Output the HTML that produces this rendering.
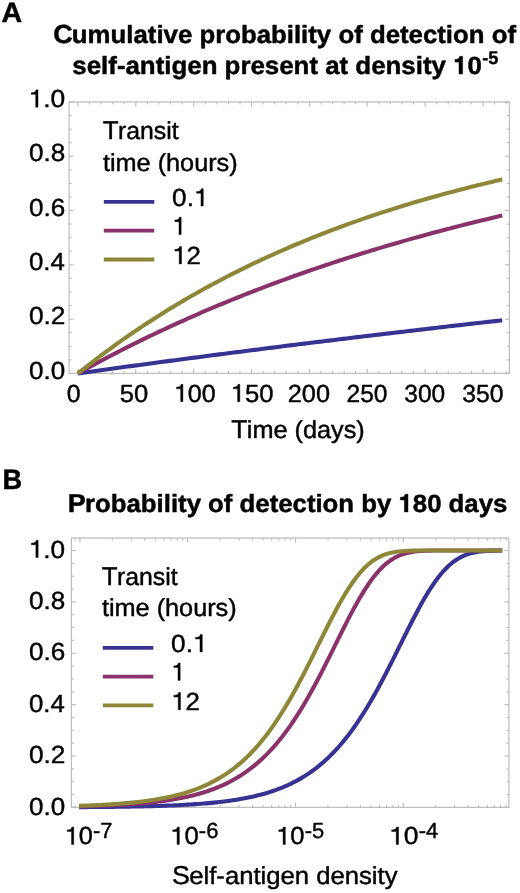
<!DOCTYPE html>
<html><head><meta charset="utf-8"><title>Detection probability</title><style>
html,body{margin:0;padding:0;background:#fff;}
svg{display:block;}
text{font-family:"Liberation Sans",sans-serif;font-kerning:none;text-rendering:geometricPrecision;fill:#000;}
.h{fill:none;stroke:none;}
</style></head><body>
<svg width="520" height="893" viewBox="0 0 520 893">

<rect width="520" height="893" fill="#fff"/>
<rect x="69.1" y="102.0" width="440.29999999999995" height="271.4" fill="none" stroke="#bebebe" stroke-width="1.25"/>
<line x1="77.90" y1="373.40" x2="77.90" y2="368.90" stroke="#bebebe" stroke-width="1.2"/>
<line x1="77.90" y1="102.00" x2="77.90" y2="106.50" stroke="#bebebe" stroke-width="1.2"/>
<line x1="89.48" y1="373.40" x2="89.48" y2="370.90" stroke="#bebebe" stroke-width="1.2"/>
<line x1="89.48" y1="102.00" x2="89.48" y2="104.50" stroke="#bebebe" stroke-width="1.2"/>
<line x1="101.05" y1="373.40" x2="101.05" y2="370.90" stroke="#bebebe" stroke-width="1.2"/>
<line x1="101.05" y1="102.00" x2="101.05" y2="104.50" stroke="#bebebe" stroke-width="1.2"/>
<line x1="112.62" y1="373.40" x2="112.62" y2="370.90" stroke="#bebebe" stroke-width="1.2"/>
<line x1="112.62" y1="102.00" x2="112.62" y2="104.50" stroke="#bebebe" stroke-width="1.2"/>
<line x1="124.20" y1="373.40" x2="124.20" y2="370.90" stroke="#bebebe" stroke-width="1.2"/>
<line x1="124.20" y1="102.00" x2="124.20" y2="104.50" stroke="#bebebe" stroke-width="1.2"/>
<line x1="135.78" y1="373.40" x2="135.78" y2="368.90" stroke="#bebebe" stroke-width="1.2"/>
<line x1="135.78" y1="102.00" x2="135.78" y2="106.50" stroke="#bebebe" stroke-width="1.2"/>
<line x1="147.35" y1="373.40" x2="147.35" y2="370.90" stroke="#bebebe" stroke-width="1.2"/>
<line x1="147.35" y1="102.00" x2="147.35" y2="104.50" stroke="#bebebe" stroke-width="1.2"/>
<line x1="158.93" y1="373.40" x2="158.93" y2="370.90" stroke="#bebebe" stroke-width="1.2"/>
<line x1="158.93" y1="102.00" x2="158.93" y2="104.50" stroke="#bebebe" stroke-width="1.2"/>
<line x1="170.50" y1="373.40" x2="170.50" y2="370.90" stroke="#bebebe" stroke-width="1.2"/>
<line x1="170.50" y1="102.00" x2="170.50" y2="104.50" stroke="#bebebe" stroke-width="1.2"/>
<line x1="182.07" y1="373.40" x2="182.07" y2="370.90" stroke="#bebebe" stroke-width="1.2"/>
<line x1="182.07" y1="102.00" x2="182.07" y2="104.50" stroke="#bebebe" stroke-width="1.2"/>
<line x1="193.65" y1="373.40" x2="193.65" y2="368.90" stroke="#bebebe" stroke-width="1.2"/>
<line x1="193.65" y1="102.00" x2="193.65" y2="106.50" stroke="#bebebe" stroke-width="1.2"/>
<line x1="205.23" y1="373.40" x2="205.23" y2="370.90" stroke="#bebebe" stroke-width="1.2"/>
<line x1="205.23" y1="102.00" x2="205.23" y2="104.50" stroke="#bebebe" stroke-width="1.2"/>
<line x1="216.80" y1="373.40" x2="216.80" y2="370.90" stroke="#bebebe" stroke-width="1.2"/>
<line x1="216.80" y1="102.00" x2="216.80" y2="104.50" stroke="#bebebe" stroke-width="1.2"/>
<line x1="228.38" y1="373.40" x2="228.38" y2="370.90" stroke="#bebebe" stroke-width="1.2"/>
<line x1="228.38" y1="102.00" x2="228.38" y2="104.50" stroke="#bebebe" stroke-width="1.2"/>
<line x1="239.95" y1="373.40" x2="239.95" y2="370.90" stroke="#bebebe" stroke-width="1.2"/>
<line x1="239.95" y1="102.00" x2="239.95" y2="104.50" stroke="#bebebe" stroke-width="1.2"/>
<line x1="251.53" y1="373.40" x2="251.53" y2="368.90" stroke="#bebebe" stroke-width="1.2"/>
<line x1="251.53" y1="102.00" x2="251.53" y2="106.50" stroke="#bebebe" stroke-width="1.2"/>
<line x1="263.10" y1="373.40" x2="263.10" y2="370.90" stroke="#bebebe" stroke-width="1.2"/>
<line x1="263.10" y1="102.00" x2="263.10" y2="104.50" stroke="#bebebe" stroke-width="1.2"/>
<line x1="274.68" y1="373.40" x2="274.68" y2="370.90" stroke="#bebebe" stroke-width="1.2"/>
<line x1="274.68" y1="102.00" x2="274.68" y2="104.50" stroke="#bebebe" stroke-width="1.2"/>
<line x1="286.25" y1="373.40" x2="286.25" y2="370.90" stroke="#bebebe" stroke-width="1.2"/>
<line x1="286.25" y1="102.00" x2="286.25" y2="104.50" stroke="#bebebe" stroke-width="1.2"/>
<line x1="297.82" y1="373.40" x2="297.82" y2="370.90" stroke="#bebebe" stroke-width="1.2"/>
<line x1="297.82" y1="102.00" x2="297.82" y2="104.50" stroke="#bebebe" stroke-width="1.2"/>
<line x1="309.40" y1="373.40" x2="309.40" y2="368.90" stroke="#bebebe" stroke-width="1.2"/>
<line x1="309.40" y1="102.00" x2="309.40" y2="106.50" stroke="#bebebe" stroke-width="1.2"/>
<line x1="320.98" y1="373.40" x2="320.98" y2="370.90" stroke="#bebebe" stroke-width="1.2"/>
<line x1="320.98" y1="102.00" x2="320.98" y2="104.50" stroke="#bebebe" stroke-width="1.2"/>
<line x1="332.55" y1="373.40" x2="332.55" y2="370.90" stroke="#bebebe" stroke-width="1.2"/>
<line x1="332.55" y1="102.00" x2="332.55" y2="104.50" stroke="#bebebe" stroke-width="1.2"/>
<line x1="344.12" y1="373.40" x2="344.12" y2="370.90" stroke="#bebebe" stroke-width="1.2"/>
<line x1="344.12" y1="102.00" x2="344.12" y2="104.50" stroke="#bebebe" stroke-width="1.2"/>
<line x1="355.70" y1="373.40" x2="355.70" y2="370.90" stroke="#bebebe" stroke-width="1.2"/>
<line x1="355.70" y1="102.00" x2="355.70" y2="104.50" stroke="#bebebe" stroke-width="1.2"/>
<line x1="367.27" y1="373.40" x2="367.27" y2="368.90" stroke="#bebebe" stroke-width="1.2"/>
<line x1="367.27" y1="102.00" x2="367.27" y2="106.50" stroke="#bebebe" stroke-width="1.2"/>
<line x1="378.85" y1="373.40" x2="378.85" y2="370.90" stroke="#bebebe" stroke-width="1.2"/>
<line x1="378.85" y1="102.00" x2="378.85" y2="104.50" stroke="#bebebe" stroke-width="1.2"/>
<line x1="390.42" y1="373.40" x2="390.42" y2="370.90" stroke="#bebebe" stroke-width="1.2"/>
<line x1="390.42" y1="102.00" x2="390.42" y2="104.50" stroke="#bebebe" stroke-width="1.2"/>
<line x1="402.00" y1="373.40" x2="402.00" y2="370.90" stroke="#bebebe" stroke-width="1.2"/>
<line x1="402.00" y1="102.00" x2="402.00" y2="104.50" stroke="#bebebe" stroke-width="1.2"/>
<line x1="413.58" y1="373.40" x2="413.58" y2="370.90" stroke="#bebebe" stroke-width="1.2"/>
<line x1="413.58" y1="102.00" x2="413.58" y2="104.50" stroke="#bebebe" stroke-width="1.2"/>
<line x1="425.15" y1="373.40" x2="425.15" y2="368.90" stroke="#bebebe" stroke-width="1.2"/>
<line x1="425.15" y1="102.00" x2="425.15" y2="106.50" stroke="#bebebe" stroke-width="1.2"/>
<line x1="436.73" y1="373.40" x2="436.73" y2="370.90" stroke="#bebebe" stroke-width="1.2"/>
<line x1="436.73" y1="102.00" x2="436.73" y2="104.50" stroke="#bebebe" stroke-width="1.2"/>
<line x1="448.30" y1="373.40" x2="448.30" y2="370.90" stroke="#bebebe" stroke-width="1.2"/>
<line x1="448.30" y1="102.00" x2="448.30" y2="104.50" stroke="#bebebe" stroke-width="1.2"/>
<line x1="459.88" y1="373.40" x2="459.88" y2="370.90" stroke="#bebebe" stroke-width="1.2"/>
<line x1="459.88" y1="102.00" x2="459.88" y2="104.50" stroke="#bebebe" stroke-width="1.2"/>
<line x1="471.45" y1="373.40" x2="471.45" y2="370.90" stroke="#bebebe" stroke-width="1.2"/>
<line x1="471.45" y1="102.00" x2="471.45" y2="104.50" stroke="#bebebe" stroke-width="1.2"/>
<line x1="483.02" y1="373.40" x2="483.02" y2="368.90" stroke="#bebebe" stroke-width="1.2"/>
<line x1="483.02" y1="102.00" x2="483.02" y2="106.50" stroke="#bebebe" stroke-width="1.2"/>
<line x1="494.60" y1="373.40" x2="494.60" y2="370.90" stroke="#bebebe" stroke-width="1.2"/>
<line x1="494.60" y1="102.00" x2="494.60" y2="104.50" stroke="#bebebe" stroke-width="1.2"/>
<line x1="506.17" y1="373.40" x2="506.17" y2="370.90" stroke="#bebebe" stroke-width="1.2"/>
<line x1="506.17" y1="102.00" x2="506.17" y2="104.50" stroke="#bebebe" stroke-width="1.2"/>
<line x1="69.10" y1="373.40" x2="73.60" y2="373.40" stroke="#bebebe" stroke-width="1.2"/>
<line x1="509.40" y1="373.40" x2="504.90" y2="373.40" stroke="#bebebe" stroke-width="1.2"/>
<line x1="69.10" y1="359.83" x2="71.60" y2="359.83" stroke="#bebebe" stroke-width="1.2"/>
<line x1="509.40" y1="359.83" x2="506.90" y2="359.83" stroke="#bebebe" stroke-width="1.2"/>
<line x1="69.10" y1="346.26" x2="71.60" y2="346.26" stroke="#bebebe" stroke-width="1.2"/>
<line x1="509.40" y1="346.26" x2="506.90" y2="346.26" stroke="#bebebe" stroke-width="1.2"/>
<line x1="69.10" y1="332.69" x2="71.60" y2="332.69" stroke="#bebebe" stroke-width="1.2"/>
<line x1="509.40" y1="332.69" x2="506.90" y2="332.69" stroke="#bebebe" stroke-width="1.2"/>
<line x1="69.10" y1="319.12" x2="73.60" y2="319.12" stroke="#bebebe" stroke-width="1.2"/>
<line x1="509.40" y1="319.12" x2="504.90" y2="319.12" stroke="#bebebe" stroke-width="1.2"/>
<line x1="69.10" y1="305.55" x2="71.60" y2="305.55" stroke="#bebebe" stroke-width="1.2"/>
<line x1="509.40" y1="305.55" x2="506.90" y2="305.55" stroke="#bebebe" stroke-width="1.2"/>
<line x1="69.10" y1="291.98" x2="71.60" y2="291.98" stroke="#bebebe" stroke-width="1.2"/>
<line x1="509.40" y1="291.98" x2="506.90" y2="291.98" stroke="#bebebe" stroke-width="1.2"/>
<line x1="69.10" y1="278.41" x2="71.60" y2="278.41" stroke="#bebebe" stroke-width="1.2"/>
<line x1="509.40" y1="278.41" x2="506.90" y2="278.41" stroke="#bebebe" stroke-width="1.2"/>
<line x1="69.10" y1="264.84" x2="73.60" y2="264.84" stroke="#bebebe" stroke-width="1.2"/>
<line x1="509.40" y1="264.84" x2="504.90" y2="264.84" stroke="#bebebe" stroke-width="1.2"/>
<line x1="69.10" y1="251.27" x2="71.60" y2="251.27" stroke="#bebebe" stroke-width="1.2"/>
<line x1="509.40" y1="251.27" x2="506.90" y2="251.27" stroke="#bebebe" stroke-width="1.2"/>
<line x1="69.10" y1="237.70" x2="71.60" y2="237.70" stroke="#bebebe" stroke-width="1.2"/>
<line x1="509.40" y1="237.70" x2="506.90" y2="237.70" stroke="#bebebe" stroke-width="1.2"/>
<line x1="69.10" y1="224.13" x2="71.60" y2="224.13" stroke="#bebebe" stroke-width="1.2"/>
<line x1="509.40" y1="224.13" x2="506.90" y2="224.13" stroke="#bebebe" stroke-width="1.2"/>
<line x1="69.10" y1="210.56" x2="73.60" y2="210.56" stroke="#bebebe" stroke-width="1.2"/>
<line x1="509.40" y1="210.56" x2="504.90" y2="210.56" stroke="#bebebe" stroke-width="1.2"/>
<line x1="69.10" y1="196.99" x2="71.60" y2="196.99" stroke="#bebebe" stroke-width="1.2"/>
<line x1="509.40" y1="196.99" x2="506.90" y2="196.99" stroke="#bebebe" stroke-width="1.2"/>
<line x1="69.10" y1="183.42" x2="71.60" y2="183.42" stroke="#bebebe" stroke-width="1.2"/>
<line x1="509.40" y1="183.42" x2="506.90" y2="183.42" stroke="#bebebe" stroke-width="1.2"/>
<line x1="69.10" y1="169.85" x2="71.60" y2="169.85" stroke="#bebebe" stroke-width="1.2"/>
<line x1="509.40" y1="169.85" x2="506.90" y2="169.85" stroke="#bebebe" stroke-width="1.2"/>
<line x1="69.10" y1="156.28" x2="73.60" y2="156.28" stroke="#bebebe" stroke-width="1.2"/>
<line x1="509.40" y1="156.28" x2="504.90" y2="156.28" stroke="#bebebe" stroke-width="1.2"/>
<line x1="69.10" y1="142.71" x2="71.60" y2="142.71" stroke="#bebebe" stroke-width="1.2"/>
<line x1="509.40" y1="142.71" x2="506.90" y2="142.71" stroke="#bebebe" stroke-width="1.2"/>
<line x1="69.10" y1="129.14" x2="71.60" y2="129.14" stroke="#bebebe" stroke-width="1.2"/>
<line x1="509.40" y1="129.14" x2="506.90" y2="129.14" stroke="#bebebe" stroke-width="1.2"/>
<line x1="69.10" y1="115.57" x2="71.60" y2="115.57" stroke="#bebebe" stroke-width="1.2"/>
<line x1="509.40" y1="115.57" x2="506.90" y2="115.57" stroke="#bebebe" stroke-width="1.2"/>
<line x1="69.10" y1="102.00" x2="73.60" y2="102.00" stroke="#bebebe" stroke-width="1.2"/>
<line x1="509.40" y1="102.00" x2="504.90" y2="102.00" stroke="#bebebe" stroke-width="1.2"/>
<path d="M77.90 373.40 L81.44 372.91 L84.97 372.42 L88.51 371.93 L92.04 371.44 L95.58 370.95 L99.12 370.46 L102.65 369.97 L106.19 369.49 L109.73 369.00 L113.26 368.52 L116.80 368.04 L120.33 367.55 L123.87 367.07 L127.41 366.59 L130.94 366.11 L134.48 365.63 L138.01 365.16 L141.55 364.68 L145.09 364.20 L148.62 363.73 L152.16 363.25 L155.70 362.78 L159.23 362.31 L162.77 361.83 L166.30 361.36 L169.84 360.89 L173.38 360.42 L176.91 359.95 L180.45 359.49 L183.98 359.02 L187.52 358.55 L191.06 358.09 L194.59 357.62 L198.13 357.16 L201.67 356.70 L205.20 356.24 L208.74 355.78 L212.27 355.32 L215.81 354.86 L219.35 354.40 L222.88 353.94 L226.42 353.48 L229.95 353.03 L233.49 352.57 L237.03 352.12 L240.56 351.66 L244.10 351.21 L247.64 350.76 L251.17 350.31 L254.71 349.86 L258.24 349.41 L261.78 348.96 L265.32 348.51 L268.85 348.07 L272.39 347.62 L275.93 347.17 L279.46 346.73 L283.00 346.29 L286.53 345.84 L290.07 345.40 L293.61 344.96 L297.14 344.52 L300.68 344.08 L304.21 343.64 L307.75 343.20 L311.29 342.77 L314.82 342.33 L318.36 341.89 L321.90 341.46 L325.43 341.02 L328.97 340.59 L332.50 340.16 L336.04 339.73 L339.58 339.30 L343.11 338.87 L346.65 338.44 L350.18 338.01 L353.72 337.58 L357.26 337.15 L360.79 336.73 L364.33 336.30 L367.87 335.88 L371.40 335.45 L374.94 335.03 L378.47 334.61 L382.01 334.18 L385.55 333.76 L389.08 333.34 L392.62 332.92 L396.15 332.51 L399.69 332.09 L403.23 331.67 L406.76 331.25 L410.30 330.84 L413.84 330.42 L417.37 330.01 L420.91 329.60 L424.44 329.18 L427.98 328.77 L431.52 328.36 L435.05 327.95 L438.59 327.54 L442.12 327.13 L445.66 326.72 L449.20 326.32 L452.73 325.91 L456.27 325.50 L459.81 325.10 L463.34 324.69 L466.88 324.29 L470.41 323.89 L473.95 323.48 L477.49 323.08 L481.02 322.68 L484.56 322.28 L488.09 321.88 L491.63 321.48 L495.17 321.09 L498.70 320.69 L502.24 320.29" fill="none" stroke="#363392" stroke-width="4.1" stroke-linejoin="round"/>
<path d="M77.90 373.40 L81.44 371.44 L84.97 369.49 L88.51 367.55 L92.04 365.63 L95.58 363.72 L99.12 361.83 L102.65 359.95 L106.19 358.08 L109.73 356.23 L113.26 354.39 L116.80 352.56 L120.33 350.75 L123.87 348.95 L127.41 347.16 L130.94 345.39 L134.48 343.63 L138.01 341.88 L141.55 340.15 L145.09 338.42 L148.62 336.71 L152.16 335.01 L155.70 333.33 L159.23 331.65 L162.77 329.99 L166.30 328.34 L169.84 326.71 L173.38 325.08 L176.91 323.47 L180.45 321.86 L183.98 320.27 L187.52 318.69 L191.06 317.12 L194.59 315.57 L198.13 314.02 L201.67 312.49 L205.20 310.97 L208.74 309.45 L212.27 307.95 L215.81 306.46 L219.35 304.98 L222.88 303.51 L226.42 302.06 L229.95 300.61 L233.49 299.17 L237.03 297.75 L240.56 296.33 L244.10 294.92 L247.64 293.53 L251.17 292.14 L254.71 290.77 L258.24 289.40 L261.78 288.04 L265.32 286.70 L268.85 285.36 L272.39 284.03 L275.93 282.72 L279.46 281.41 L283.00 280.11 L286.53 278.82 L290.07 277.54 L293.61 276.27 L297.14 275.01 L300.68 273.76 L304.21 272.52 L307.75 271.28 L311.29 270.06 L314.82 268.84 L318.36 267.64 L321.90 266.44 L325.43 265.25 L328.97 264.07 L332.50 262.89 L336.04 261.73 L339.58 260.57 L343.11 259.43 L346.65 258.29 L350.18 257.16 L353.72 256.03 L357.26 254.92 L360.79 253.81 L364.33 252.72 L367.87 251.62 L371.40 250.54 L374.94 249.47 L378.47 248.40 L382.01 247.34 L385.55 246.29 L389.08 245.25 L392.62 244.21 L396.15 243.18 L399.69 242.16 L403.23 241.14 L406.76 240.14 L410.30 239.14 L413.84 238.15 L417.37 237.16 L420.91 236.18 L424.44 235.21 L427.98 234.25 L431.52 233.29 L435.05 232.34 L438.59 231.40 L442.12 230.46 L445.66 229.53 L449.20 228.61 L452.73 227.69 L456.27 226.78 L459.81 225.88 L463.34 224.99 L466.88 224.10 L470.41 223.21 L473.95 222.33 L477.49 221.46 L481.02 220.60 L484.56 219.74 L488.09 218.89 L491.63 218.04 L495.17 217.20 L498.70 216.37 L502.24 215.54" fill="none" stroke="#8a326a" stroke-width="4.1" stroke-linejoin="round"/>
<path d="M77.90 373.40 L81.44 370.58 L84.97 367.79 L88.51 365.03 L92.04 362.29 L95.58 359.59 L99.12 356.91 L102.65 354.26 L106.19 351.64 L109.73 349.04 L113.26 346.47 L116.80 343.93 L120.33 341.42 L123.87 338.93 L127.41 336.47 L130.94 334.03 L134.48 331.62 L138.01 329.23 L141.55 326.87 L145.09 324.53 L148.62 322.22 L152.16 319.93 L155.70 317.67 L159.23 315.43 L162.77 313.21 L166.30 311.01 L169.84 308.84 L173.38 306.69 L176.91 304.56 L180.45 302.46 L183.98 300.37 L187.52 298.31 L191.06 296.27 L194.59 294.25 L198.13 292.25 L201.67 290.28 L205.20 288.32 L208.74 286.38 L212.27 284.47 L215.81 282.57 L219.35 280.69 L222.88 278.84 L226.42 277.00 L229.95 275.18 L233.49 273.38 L237.03 271.60 L240.56 269.83 L244.10 268.09 L247.64 266.36 L251.17 264.66 L254.71 262.97 L258.24 261.29 L261.78 259.64 L265.32 258.00 L268.85 256.38 L272.39 254.77 L275.93 253.18 L279.46 251.61 L283.00 250.06 L286.53 248.52 L290.07 247.00 L293.61 245.49 L297.14 244.00 L300.68 242.52 L304.21 241.06 L307.75 239.62 L311.29 238.19 L314.82 236.77 L318.36 235.37 L321.90 233.98 L325.43 232.61 L328.97 231.25 L332.50 229.91 L336.04 228.58 L339.58 227.27 L343.11 225.96 L346.65 224.67 L350.18 223.40 L353.72 222.14 L357.26 220.89 L360.79 219.65 L364.33 218.43 L367.87 217.22 L371.40 216.02 L374.94 214.84 L378.47 213.67 L382.01 212.50 L385.55 211.36 L389.08 210.22 L392.62 209.09 L396.15 207.98 L399.69 206.88 L403.23 205.79 L406.76 204.71 L410.30 203.64 L413.84 202.59 L417.37 201.54 L420.91 200.51 L424.44 199.48 L427.98 198.47 L431.52 197.47 L435.05 196.48 L438.59 195.49 L442.12 194.52 L445.66 193.56 L449.20 192.61 L452.73 191.67 L456.27 190.73 L459.81 189.81 L463.34 188.90 L466.88 188.00 L470.41 187.10 L473.95 186.22 L477.49 185.34 L481.02 184.48 L484.56 183.62 L488.09 182.77 L491.63 181.93 L495.17 181.10 L498.70 180.28 L502.24 179.46" fill="none" stroke="#8e873a" stroke-width="4.1" stroke-linejoin="round"/>
<rect x="71.4" y="538.0" width="437.5" height="269.4" fill="none" stroke="#bebebe" stroke-width="1.25"/>
<line x1="74.97" y1="807.40" x2="74.97" y2="804.90" stroke="#bebebe" stroke-width="1.2"/>
<line x1="74.97" y1="538.00" x2="74.97" y2="540.50" stroke="#bebebe" stroke-width="1.2"/>
<line x1="79.90" y1="807.40" x2="79.90" y2="802.90" stroke="#bebebe" stroke-width="1.2"/>
<line x1="79.90" y1="538.00" x2="79.90" y2="542.50" stroke="#bebebe" stroke-width="1.2"/>
<line x1="112.35" y1="807.40" x2="112.35" y2="804.90" stroke="#bebebe" stroke-width="1.2"/>
<line x1="112.35" y1="538.00" x2="112.35" y2="540.50" stroke="#bebebe" stroke-width="1.2"/>
<line x1="131.33" y1="807.40" x2="131.33" y2="804.90" stroke="#bebebe" stroke-width="1.2"/>
<line x1="131.33" y1="538.00" x2="131.33" y2="540.50" stroke="#bebebe" stroke-width="1.2"/>
<line x1="144.80" y1="807.40" x2="144.80" y2="804.90" stroke="#bebebe" stroke-width="1.2"/>
<line x1="144.80" y1="538.00" x2="144.80" y2="540.50" stroke="#bebebe" stroke-width="1.2"/>
<line x1="155.25" y1="807.40" x2="155.25" y2="804.90" stroke="#bebebe" stroke-width="1.2"/>
<line x1="155.25" y1="538.00" x2="155.25" y2="540.50" stroke="#bebebe" stroke-width="1.2"/>
<line x1="163.78" y1="807.40" x2="163.78" y2="804.90" stroke="#bebebe" stroke-width="1.2"/>
<line x1="163.78" y1="538.00" x2="163.78" y2="540.50" stroke="#bebebe" stroke-width="1.2"/>
<line x1="171.00" y1="807.40" x2="171.00" y2="804.90" stroke="#bebebe" stroke-width="1.2"/>
<line x1="171.00" y1="538.00" x2="171.00" y2="540.50" stroke="#bebebe" stroke-width="1.2"/>
<line x1="177.25" y1="807.40" x2="177.25" y2="804.90" stroke="#bebebe" stroke-width="1.2"/>
<line x1="177.25" y1="538.00" x2="177.25" y2="540.50" stroke="#bebebe" stroke-width="1.2"/>
<line x1="182.77" y1="807.40" x2="182.77" y2="804.90" stroke="#bebebe" stroke-width="1.2"/>
<line x1="182.77" y1="538.00" x2="182.77" y2="540.50" stroke="#bebebe" stroke-width="1.2"/>
<line x1="187.70" y1="807.40" x2="187.70" y2="802.90" stroke="#bebebe" stroke-width="1.2"/>
<line x1="187.70" y1="538.00" x2="187.70" y2="542.50" stroke="#bebebe" stroke-width="1.2"/>
<line x1="220.15" y1="807.40" x2="220.15" y2="804.90" stroke="#bebebe" stroke-width="1.2"/>
<line x1="220.15" y1="538.00" x2="220.15" y2="540.50" stroke="#bebebe" stroke-width="1.2"/>
<line x1="239.13" y1="807.40" x2="239.13" y2="804.90" stroke="#bebebe" stroke-width="1.2"/>
<line x1="239.13" y1="538.00" x2="239.13" y2="540.50" stroke="#bebebe" stroke-width="1.2"/>
<line x1="252.60" y1="807.40" x2="252.60" y2="804.90" stroke="#bebebe" stroke-width="1.2"/>
<line x1="252.60" y1="538.00" x2="252.60" y2="540.50" stroke="#bebebe" stroke-width="1.2"/>
<line x1="263.05" y1="807.40" x2="263.05" y2="804.90" stroke="#bebebe" stroke-width="1.2"/>
<line x1="263.05" y1="538.00" x2="263.05" y2="540.50" stroke="#bebebe" stroke-width="1.2"/>
<line x1="271.58" y1="807.40" x2="271.58" y2="804.90" stroke="#bebebe" stroke-width="1.2"/>
<line x1="271.58" y1="538.00" x2="271.58" y2="540.50" stroke="#bebebe" stroke-width="1.2"/>
<line x1="278.80" y1="807.40" x2="278.80" y2="804.90" stroke="#bebebe" stroke-width="1.2"/>
<line x1="278.80" y1="538.00" x2="278.80" y2="540.50" stroke="#bebebe" stroke-width="1.2"/>
<line x1="285.05" y1="807.40" x2="285.05" y2="804.90" stroke="#bebebe" stroke-width="1.2"/>
<line x1="285.05" y1="538.00" x2="285.05" y2="540.50" stroke="#bebebe" stroke-width="1.2"/>
<line x1="290.57" y1="807.40" x2="290.57" y2="804.90" stroke="#bebebe" stroke-width="1.2"/>
<line x1="290.57" y1="538.00" x2="290.57" y2="540.50" stroke="#bebebe" stroke-width="1.2"/>
<line x1="295.50" y1="807.40" x2="295.50" y2="802.90" stroke="#bebebe" stroke-width="1.2"/>
<line x1="295.50" y1="538.00" x2="295.50" y2="542.50" stroke="#bebebe" stroke-width="1.2"/>
<line x1="327.95" y1="807.40" x2="327.95" y2="804.90" stroke="#bebebe" stroke-width="1.2"/>
<line x1="327.95" y1="538.00" x2="327.95" y2="540.50" stroke="#bebebe" stroke-width="1.2"/>
<line x1="346.93" y1="807.40" x2="346.93" y2="804.90" stroke="#bebebe" stroke-width="1.2"/>
<line x1="346.93" y1="538.00" x2="346.93" y2="540.50" stroke="#bebebe" stroke-width="1.2"/>
<line x1="360.40" y1="807.40" x2="360.40" y2="804.90" stroke="#bebebe" stroke-width="1.2"/>
<line x1="360.40" y1="538.00" x2="360.40" y2="540.50" stroke="#bebebe" stroke-width="1.2"/>
<line x1="370.85" y1="807.40" x2="370.85" y2="804.90" stroke="#bebebe" stroke-width="1.2"/>
<line x1="370.85" y1="538.00" x2="370.85" y2="540.50" stroke="#bebebe" stroke-width="1.2"/>
<line x1="379.38" y1="807.40" x2="379.38" y2="804.90" stroke="#bebebe" stroke-width="1.2"/>
<line x1="379.38" y1="538.00" x2="379.38" y2="540.50" stroke="#bebebe" stroke-width="1.2"/>
<line x1="386.60" y1="807.40" x2="386.60" y2="804.90" stroke="#bebebe" stroke-width="1.2"/>
<line x1="386.60" y1="538.00" x2="386.60" y2="540.50" stroke="#bebebe" stroke-width="1.2"/>
<line x1="392.85" y1="807.40" x2="392.85" y2="804.90" stroke="#bebebe" stroke-width="1.2"/>
<line x1="392.85" y1="538.00" x2="392.85" y2="540.50" stroke="#bebebe" stroke-width="1.2"/>
<line x1="398.37" y1="807.40" x2="398.37" y2="804.90" stroke="#bebebe" stroke-width="1.2"/>
<line x1="398.37" y1="538.00" x2="398.37" y2="540.50" stroke="#bebebe" stroke-width="1.2"/>
<line x1="403.30" y1="807.40" x2="403.30" y2="802.90" stroke="#bebebe" stroke-width="1.2"/>
<line x1="403.30" y1="538.00" x2="403.30" y2="542.50" stroke="#bebebe" stroke-width="1.2"/>
<line x1="435.75" y1="807.40" x2="435.75" y2="804.90" stroke="#bebebe" stroke-width="1.2"/>
<line x1="435.75" y1="538.00" x2="435.75" y2="540.50" stroke="#bebebe" stroke-width="1.2"/>
<line x1="454.73" y1="807.40" x2="454.73" y2="804.90" stroke="#bebebe" stroke-width="1.2"/>
<line x1="454.73" y1="538.00" x2="454.73" y2="540.50" stroke="#bebebe" stroke-width="1.2"/>
<line x1="468.20" y1="807.40" x2="468.20" y2="804.90" stroke="#bebebe" stroke-width="1.2"/>
<line x1="468.20" y1="538.00" x2="468.20" y2="540.50" stroke="#bebebe" stroke-width="1.2"/>
<line x1="478.65" y1="807.40" x2="478.65" y2="804.90" stroke="#bebebe" stroke-width="1.2"/>
<line x1="478.65" y1="538.00" x2="478.65" y2="540.50" stroke="#bebebe" stroke-width="1.2"/>
<line x1="487.18" y1="807.40" x2="487.18" y2="804.90" stroke="#bebebe" stroke-width="1.2"/>
<line x1="487.18" y1="538.00" x2="487.18" y2="540.50" stroke="#bebebe" stroke-width="1.2"/>
<line x1="494.40" y1="807.40" x2="494.40" y2="804.90" stroke="#bebebe" stroke-width="1.2"/>
<line x1="494.40" y1="538.00" x2="494.40" y2="540.50" stroke="#bebebe" stroke-width="1.2"/>
<line x1="500.65" y1="807.40" x2="500.65" y2="804.90" stroke="#bebebe" stroke-width="1.2"/>
<line x1="500.65" y1="538.00" x2="500.65" y2="540.50" stroke="#bebebe" stroke-width="1.2"/>
<line x1="506.17" y1="807.40" x2="506.17" y2="804.90" stroke="#bebebe" stroke-width="1.2"/>
<line x1="506.17" y1="538.00" x2="506.17" y2="540.50" stroke="#bebebe" stroke-width="1.2"/>
<line x1="71.40" y1="807.40" x2="75.90" y2="807.40" stroke="#bebebe" stroke-width="1.2"/>
<line x1="508.90" y1="807.40" x2="504.40" y2="807.40" stroke="#bebebe" stroke-width="1.2"/>
<line x1="71.40" y1="794.55" x2="73.90" y2="794.55" stroke="#bebebe" stroke-width="1.2"/>
<line x1="508.90" y1="794.55" x2="506.40" y2="794.55" stroke="#bebebe" stroke-width="1.2"/>
<line x1="71.40" y1="781.71" x2="73.90" y2="781.71" stroke="#bebebe" stroke-width="1.2"/>
<line x1="508.90" y1="781.71" x2="506.40" y2="781.71" stroke="#bebebe" stroke-width="1.2"/>
<line x1="71.40" y1="768.87" x2="73.90" y2="768.87" stroke="#bebebe" stroke-width="1.2"/>
<line x1="508.90" y1="768.87" x2="506.40" y2="768.87" stroke="#bebebe" stroke-width="1.2"/>
<line x1="71.40" y1="756.02" x2="75.90" y2="756.02" stroke="#bebebe" stroke-width="1.2"/>
<line x1="508.90" y1="756.02" x2="504.40" y2="756.02" stroke="#bebebe" stroke-width="1.2"/>
<line x1="71.40" y1="743.17" x2="73.90" y2="743.17" stroke="#bebebe" stroke-width="1.2"/>
<line x1="508.90" y1="743.17" x2="506.40" y2="743.17" stroke="#bebebe" stroke-width="1.2"/>
<line x1="71.40" y1="730.33" x2="73.90" y2="730.33" stroke="#bebebe" stroke-width="1.2"/>
<line x1="508.90" y1="730.33" x2="506.40" y2="730.33" stroke="#bebebe" stroke-width="1.2"/>
<line x1="71.40" y1="717.49" x2="73.90" y2="717.49" stroke="#bebebe" stroke-width="1.2"/>
<line x1="508.90" y1="717.49" x2="506.40" y2="717.49" stroke="#bebebe" stroke-width="1.2"/>
<line x1="71.40" y1="704.64" x2="75.90" y2="704.64" stroke="#bebebe" stroke-width="1.2"/>
<line x1="508.90" y1="704.64" x2="504.40" y2="704.64" stroke="#bebebe" stroke-width="1.2"/>
<line x1="71.40" y1="691.79" x2="73.90" y2="691.79" stroke="#bebebe" stroke-width="1.2"/>
<line x1="508.90" y1="691.79" x2="506.40" y2="691.79" stroke="#bebebe" stroke-width="1.2"/>
<line x1="71.40" y1="678.95" x2="73.90" y2="678.95" stroke="#bebebe" stroke-width="1.2"/>
<line x1="508.90" y1="678.95" x2="506.40" y2="678.95" stroke="#bebebe" stroke-width="1.2"/>
<line x1="71.40" y1="666.11" x2="73.90" y2="666.11" stroke="#bebebe" stroke-width="1.2"/>
<line x1="508.90" y1="666.11" x2="506.40" y2="666.11" stroke="#bebebe" stroke-width="1.2"/>
<line x1="71.40" y1="653.26" x2="75.90" y2="653.26" stroke="#bebebe" stroke-width="1.2"/>
<line x1="508.90" y1="653.26" x2="504.40" y2="653.26" stroke="#bebebe" stroke-width="1.2"/>
<line x1="71.40" y1="640.41" x2="73.90" y2="640.41" stroke="#bebebe" stroke-width="1.2"/>
<line x1="508.90" y1="640.41" x2="506.40" y2="640.41" stroke="#bebebe" stroke-width="1.2"/>
<line x1="71.40" y1="627.57" x2="73.90" y2="627.57" stroke="#bebebe" stroke-width="1.2"/>
<line x1="508.90" y1="627.57" x2="506.40" y2="627.57" stroke="#bebebe" stroke-width="1.2"/>
<line x1="71.40" y1="614.73" x2="73.90" y2="614.73" stroke="#bebebe" stroke-width="1.2"/>
<line x1="508.90" y1="614.73" x2="506.40" y2="614.73" stroke="#bebebe" stroke-width="1.2"/>
<line x1="71.40" y1="601.88" x2="75.90" y2="601.88" stroke="#bebebe" stroke-width="1.2"/>
<line x1="508.90" y1="601.88" x2="504.40" y2="601.88" stroke="#bebebe" stroke-width="1.2"/>
<line x1="71.40" y1="589.03" x2="73.90" y2="589.03" stroke="#bebebe" stroke-width="1.2"/>
<line x1="508.90" y1="589.03" x2="506.40" y2="589.03" stroke="#bebebe" stroke-width="1.2"/>
<line x1="71.40" y1="576.19" x2="73.90" y2="576.19" stroke="#bebebe" stroke-width="1.2"/>
<line x1="508.90" y1="576.19" x2="506.40" y2="576.19" stroke="#bebebe" stroke-width="1.2"/>
<line x1="71.40" y1="563.35" x2="73.90" y2="563.35" stroke="#bebebe" stroke-width="1.2"/>
<line x1="508.90" y1="563.35" x2="506.40" y2="563.35" stroke="#bebebe" stroke-width="1.2"/>
<line x1="71.40" y1="550.50" x2="75.90" y2="550.50" stroke="#bebebe" stroke-width="1.2"/>
<line x1="508.90" y1="550.50" x2="504.40" y2="550.50" stroke="#bebebe" stroke-width="1.2"/>
<path d="M79.20 807.13 L81.84 807.11 L84.49 807.10 L87.13 807.08 L89.78 807.06 L92.42 807.04 L95.06 807.02 L97.71 807.00 L100.35 806.98 L102.99 806.95 L105.64 806.92 L108.28 806.90 L110.92 806.87 L113.57 806.84 L116.21 806.80 L118.86 806.77 L121.50 806.73 L124.14 806.69 L126.79 806.65 L129.43 806.61 L132.07 806.56 L134.72 806.52 L137.36 806.46 L140.01 806.41 L142.65 806.35 L145.29 806.29 L147.94 806.23 L150.58 806.16 L153.23 806.09 L155.87 806.01 L158.51 805.93 L161.16 805.85 L163.80 805.76 L166.44 805.66 L169.09 805.56 L171.73 805.45 L174.38 805.34 L177.02 805.22 L179.66 805.10 L182.31 804.96 L184.95 804.82 L187.59 804.67 L190.24 804.52 L192.88 804.35 L195.52 804.17 L198.17 803.99 L200.81 803.79 L203.46 803.58 L206.10 803.36 L208.74 803.13 L211.39 802.88 L214.03 802.62 L216.68 802.35 L219.32 802.06 L221.96 801.75 L224.61 801.43 L227.25 801.09 L229.89 800.72 L232.54 800.34 L235.18 799.94 L237.82 799.51 L240.47 799.06 L243.11 798.58 L245.76 798.08 L248.40 797.55 L251.04 796.99 L253.69 796.40 L256.33 795.77 L258.97 795.11 L261.62 794.42 L264.26 793.69 L266.91 792.91 L269.55 792.10 L272.19 791.23 L274.84 790.33 L277.48 789.37 L280.12 788.36 L282.77 787.30 L285.41 786.18 L288.06 785.01 L290.70 783.77 L293.34 782.46 L295.99 781.09 L298.63 779.65 L301.28 778.13 L303.92 776.54 L306.56 774.86 L309.21 773.11 L311.85 771.26 L314.49 769.32 L317.14 767.29 L319.78 765.17 L322.43 762.94 L325.07 760.61 L327.71 758.17 L330.36 755.62 L333.00 752.95 L335.64 750.17 L338.29 747.27 L340.93 744.24 L343.58 741.09 L346.22 737.81 L348.86 734.41 L351.51 730.87 L354.15 727.20 L356.79 723.40 L359.44 719.47 L362.08 715.41 L364.72 711.22 L367.37 706.90 L370.01 702.45 L372.66 697.88 L375.30 693.20 L377.94 688.41 L380.59 683.52 L383.23 678.53 L385.88 673.45 L388.52 668.30 L391.16 663.08 L393.81 657.81 L396.45 652.50 L399.09 647.18 L401.74 641.84 L404.38 636.51 L407.02 631.22 L409.67 625.97 L412.31 620.78 L414.96 615.68 L417.60 610.69 L420.24 605.83 L422.89 601.10 L425.53 596.55 L428.18 592.17 L430.82 587.99 L433.46 584.03 L436.11 580.28 L438.75 576.78 L441.39 573.52 L444.04 570.51 L446.68 567.75 L449.32 565.25 L451.97 562.99 L454.61 560.98 L457.26 559.20 L459.90 557.65 L462.54 556.31 L465.19 555.16 L467.83 554.19 L470.48 553.38 L473.12 552.72 L475.76 552.19 L478.41 551.76 L481.05 551.42 L483.69 551.17 L486.34 550.97 L488.98 550.83 L491.62 550.72 L494.27 550.65 L496.91 550.60 L499.56 550.56 L502.20 550.54" fill="none" stroke="#363392" stroke-width="4.1" stroke-linejoin="round"/>
<path d="M79.20 806.32 L81.84 806.26 L84.49 806.19 L87.13 806.12 L89.78 806.05 L92.42 805.97 L95.06 805.88 L97.71 805.80 L100.35 805.70 L102.99 805.61 L105.64 805.50 L108.28 805.39 L110.92 805.28 L113.57 805.15 L116.21 805.02 L118.86 804.89 L121.50 804.74 L124.14 804.59 L126.79 804.42 L129.43 804.25 L132.07 804.07 L134.72 803.88 L137.36 803.68 L140.01 803.46 L142.65 803.23 L145.29 803.00 L147.94 802.74 L150.58 802.47 L153.23 802.19 L155.87 801.89 L158.51 801.57 L161.16 801.24 L163.80 800.89 L166.44 800.51 L169.09 800.12 L171.73 799.70 L174.38 799.26 L177.02 798.80 L179.66 798.31 L182.31 797.79 L184.95 797.24 L187.59 796.66 L190.24 796.05 L192.88 795.41 L195.52 794.73 L198.17 794.02 L200.81 793.26 L203.46 792.46 L206.10 791.62 L208.74 790.74 L211.39 789.80 L214.03 788.82 L216.68 787.78 L219.32 786.69 L221.96 785.54 L224.61 784.32 L227.25 783.05 L229.89 781.71 L232.54 780.30 L235.18 778.81 L237.82 777.25 L240.47 775.62 L243.11 773.90 L245.76 772.09 L248.40 770.19 L251.04 768.21 L253.69 766.12 L256.33 763.94 L258.97 761.65 L261.62 759.26 L264.26 756.76 L266.91 754.15 L269.55 751.42 L272.19 748.57 L274.84 745.60 L277.48 742.50 L280.12 739.28 L282.77 735.93 L285.41 732.46 L288.06 728.85 L290.70 725.10 L293.34 721.23 L295.99 717.23 L298.63 713.09 L301.28 708.83 L303.92 704.44 L306.56 699.92 L309.21 695.29 L311.85 690.55 L314.49 685.70 L317.14 680.75 L319.78 675.71 L322.43 670.59 L325.07 665.40 L327.71 660.15 L330.36 654.86 L333.00 649.54 L335.64 644.20 L338.29 638.87 L340.93 633.56 L343.58 628.29 L346.22 623.07 L348.86 617.93 L351.51 612.89 L354.15 607.97 L356.79 603.18 L359.44 598.55 L362.08 594.09 L364.72 589.82 L367.37 585.76 L370.01 581.91 L372.66 578.30 L375.30 574.93 L377.94 571.81 L380.59 568.94 L383.23 566.33 L385.88 563.96 L388.52 561.84 L391.16 559.96 L393.81 558.31 L396.45 556.88 L399.09 555.64 L401.74 554.60 L404.38 553.72 L407.02 553.00 L409.67 552.41 L412.31 551.94 L414.96 551.56 L417.60 551.27 L420.24 551.05 L422.89 550.89 L425.53 550.76 L428.18 550.68 L430.82 550.62 L433.46 550.57 L436.11 550.55 L438.75 550.53 L441.39 550.52 L444.04 550.51 L446.68 550.51 L449.32 550.50 L451.97 550.50 L454.61 550.50 L457.26 550.50 L459.90 550.50 L462.54 550.50 L465.19 550.50 L467.83 550.50 L470.48 550.50 L473.12 550.50 L475.76 550.50 L478.41 550.50 L481.05 550.50 L483.69 550.50 L486.34 550.50 L488.98 550.50 L491.62 550.50 L494.27 550.50 L496.91 550.50 L499.56 550.50 L502.20 550.50" fill="none" stroke="#8a326a" stroke-width="4.1" stroke-linejoin="round"/>
<path d="M79.20 805.85 L81.84 805.76 L84.49 805.66 L87.13 805.56 L89.78 805.45 L92.42 805.34 L95.06 805.22 L97.71 805.10 L100.35 804.96 L102.99 804.82 L105.64 804.67 L108.28 804.52 L110.92 804.35 L113.57 804.17 L116.21 803.99 L118.86 803.79 L121.50 803.58 L124.14 803.36 L126.79 803.13 L129.43 802.88 L132.07 802.62 L134.72 802.35 L137.36 802.06 L140.01 801.75 L142.65 801.43 L145.29 801.09 L147.94 800.72 L150.58 800.34 L153.23 799.94 L155.87 799.51 L158.51 799.06 L161.16 798.58 L163.80 798.08 L166.44 797.55 L169.09 796.99 L171.73 796.40 L174.38 795.77 L177.02 795.11 L179.66 794.42 L182.31 793.69 L184.95 792.91 L187.59 792.10 L190.24 791.24 L192.88 790.33 L195.52 789.37 L198.17 788.36 L200.81 787.30 L203.46 786.19 L206.10 785.01 L208.74 783.77 L211.39 782.46 L214.03 781.09 L216.68 779.65 L219.32 778.13 L221.96 776.54 L224.61 774.87 L227.25 773.11 L229.89 771.26 L232.54 769.33 L235.18 767.30 L237.82 765.17 L240.47 762.94 L243.11 760.61 L245.76 758.17 L248.40 755.62 L251.04 752.95 L253.69 750.17 L256.33 747.27 L258.97 744.24 L261.62 741.09 L264.26 737.82 L266.91 734.41 L269.55 730.87 L272.19 727.21 L274.84 723.41 L277.48 719.47 L280.12 715.41 L282.77 711.22 L285.41 706.90 L288.06 702.45 L290.70 697.89 L293.34 693.21 L295.99 688.42 L298.63 683.52 L301.28 678.53 L303.92 673.45 L306.56 668.30 L309.21 663.08 L311.85 657.82 L314.49 652.51 L317.14 647.18 L319.78 641.84 L322.43 636.52 L325.07 631.22 L327.71 625.97 L330.36 620.79 L333.00 615.69 L335.64 610.70 L338.29 605.83 L340.93 601.11 L343.58 596.55 L346.22 592.17 L348.86 588.00 L351.51 584.03 L354.15 580.29 L356.79 576.78 L359.44 573.52 L362.08 570.51 L364.72 567.75 L367.37 565.25 L370.01 562.99 L372.66 560.98 L375.30 559.20 L377.94 557.65 L380.59 556.31 L383.23 555.16 L385.88 554.19 L388.52 553.38 L391.16 552.72 L393.81 552.19 L396.45 551.76 L399.09 551.42 L401.74 551.17 L404.38 550.97 L407.02 550.83 L409.67 550.72 L412.31 550.65 L414.96 550.60 L417.60 550.56 L420.24 550.54 L422.89 550.52 L425.53 550.51 L428.18 550.51 L430.82 550.50 L433.46 550.50 L436.11 550.50 L438.75 550.50 L441.39 550.50 L444.04 550.50 L446.68 550.50 L449.32 550.50 L451.97 550.50 L454.61 550.50 L457.26 550.50 L459.90 550.50 L462.54 550.50 L465.19 550.50 L467.83 550.50 L470.48 550.50 L473.12 550.50 L475.76 550.50 L478.41 550.50 L481.05 550.50 L483.69 550.50 L486.34 550.50 L488.98 550.50 L491.62 550.50 L494.27 550.50 L496.91 550.50 L499.56 550.50 L502.20 550.50" fill="none" stroke="#8e873a" stroke-width="4.1" stroke-linejoin="round"/>
<g fill="#000" opacity="0.999">
<text transform="matrix(0.27441 0 0 0.26900 1.53 22.20)" font-size="100" font-weight="bold" stroke="#000" stroke-width="1.767" stroke-linejoin="round"><tspan font-size="104.40">A</tspan></text>
<text transform="matrix(0.25788 0 0 0.24900 53.24 43.40)" font-size="100" font-weight="bold" stroke="#000" stroke-width="1.894" stroke-linejoin="round"><tspan font-size="104.40">C</tspan><tspan dx="-3.178">u</tspan>mulative probability of detection of</text>
<text transform="matrix(0.25855 0 0 0.24900 72.33 74.00)" font-size="100" font-weight="bold" stroke="#000" stroke-width="1.891" stroke-linejoin="round">self-antigen present at density <tspan class="h">1</tspan>0</text>
<path d="M471 0L758 0L758 1454L524 1454C492 1245 365 1208 150 1200L150 979L471 979Z" transform="matrix(0.012625 0 0 -0.012158 453.06 74.00)" stroke="#000" stroke-width="38.7" stroke-linejoin="round"/>
<text transform="matrix(0.18200 0 0 0.18200 482.28 63.90)" font-size="100" font-weight="bold" stroke="#000" stroke-width="2.110" stroke-linejoin="round">-5</text>
<text transform="matrix(0.25998 0 0 0.24700 29.00 378.60)" font-size="100" stroke="#000" stroke-width="1.736" stroke-linejoin="round">0.0</text>
<text transform="matrix(0.26223 0 0 0.24700 29.00 324.32)" font-size="100" stroke="#000" stroke-width="1.728" stroke-linejoin="round">0.2</text>
<text transform="matrix(0.25806 0 0 0.24700 29.01 270.04)" font-size="100" stroke="#000" stroke-width="1.742" stroke-linejoin="round">0.4</text>
<text transform="matrix(0.26095 0 0 0.24700 29.00 215.76)" font-size="100" stroke="#000" stroke-width="1.732" stroke-linejoin="round">0.6</text>
<text transform="matrix(0.26086 0 0 0.24700 29.00 161.48)" font-size="100" stroke="#000" stroke-width="1.733" stroke-linejoin="round">0.8</text>
<text transform="matrix(0.26326 0 0 0.24700 28.56 107.20)" font-size="100" stroke="#000" stroke-width="1.725" stroke-linejoin="round"><tspan class="h">1</tspan>.0</text>
<path d="M555 0L735 0L735 1440L588 1440C557 1253 446 1221 207 1204L207 1065L555 1065Z" transform="matrix(0.012855 0 0 -0.012061 28.56 107.20)" stroke="#000" stroke-width="35.3" stroke-linejoin="round"/>
<text transform="matrix(0.24810 0 0 0.24700 66.85 401.70)" font-size="100" stroke="#000" stroke-width="1.777" stroke-linejoin="round">0</text>
<text transform="matrix(0.25610 0 0 0.24700 119.79 401.70)" font-size="100" stroke="#000" stroke-width="1.749" stroke-linejoin="round">50</text>
<text transform="matrix(0.25098 0 0 0.24700 173.89 401.70)" font-size="100" stroke="#000" stroke-width="1.767" stroke-linejoin="round"><tspan class="h">1</tspan>00</text>
<path d="M555 0L735 0L735 1440L588 1440C557 1253 446 1221 207 1204L207 1065L555 1065Z" transform="matrix(0.012255 0 0 -0.012061 173.89 401.70)" stroke="#000" stroke-width="36.2" stroke-linejoin="round"/>
<text transform="matrix(0.25687 0 0 0.24700 230.63 401.70)" font-size="100" stroke="#000" stroke-width="1.746" stroke-linejoin="round"><tspan class="h">1</tspan>50</text>
<path d="M555 0L735 0L735 1440L588 1440C557 1253 446 1221 207 1204L207 1065L555 1065Z" transform="matrix(0.012543 0 0 -0.012061 230.63 401.70)" stroke="#000" stroke-width="35.8" stroke-linejoin="round"/>
<text transform="matrix(0.25306 0 0 0.24700 287.75 401.70)" font-size="100" stroke="#000" stroke-width="1.760" stroke-linejoin="round">200</text>
<text transform="matrix(0.24482 0 0 0.24700 346.59 401.70)" font-size="100" stroke="#000" stroke-width="1.789" stroke-linejoin="round">250</text>
<text transform="matrix(0.24546 0 0 0.24700 404.29 401.70)" font-size="100" stroke="#000" stroke-width="1.787" stroke-linejoin="round">300</text>
<text transform="matrix(0.24734 0 0 0.24700 462.18 401.70)" font-size="100" stroke="#000" stroke-width="1.780" stroke-linejoin="round">350</text>
<text transform="matrix(0.25277 0 0 0.24600 231.33 438.20)" font-size="100" stroke="#000" stroke-width="1.764" stroke-linejoin="round"><tspan font-size="104.40">T</tspan><tspan dx="-2.688">i</tspan>me (days)</text>
<text transform="matrix(0.24810 0 0 0.24600 102.74 139.40)" font-size="100" stroke="#000" stroke-width="1.781" stroke-linejoin="round"><tspan font-size="104.40">T</tspan><tspan dx="-2.688">r</tspan>ansit</text>
<text transform="matrix(0.25252 0 0 0.24600 102.94 170.50)" font-size="100" stroke="#000" stroke-width="1.765" stroke-linejoin="round">time (hours)</text>
<line x1="103.80" y1="201.90" x2="154.30" y2="201.90" stroke="#363392" stroke-width="3.8"/>
<text transform="matrix(0.26137 0 0 0.24700 172.10 206.00)" font-size="100" stroke="#000" stroke-width="1.731" stroke-linejoin="round">0.<tspan class="h">1</tspan></text>
<path d="M555 0L735 0L735 1440L588 1440C557 1253 446 1221 207 1204L207 1065L555 1065Z" transform="matrix(0.012762 0 0 -0.012061 193.90 206.00)" stroke="#000" stroke-width="35.5" stroke-linejoin="round"/>
<line x1="103.80" y1="230.70" x2="154.30" y2="230.70" stroke="#8a326a" stroke-width="3.8"/>
<text transform="matrix(0.24651 0 0 0.24700 172.33 234.50)" font-size="100" stroke="#000" stroke-width="1.783" stroke-linejoin="round"><tspan class="h">1</tspan></text>
<path d="M555 0L735 0L735 1440L588 1440C557 1253 446 1221 207 1204L207 1065L555 1065Z" transform="matrix(0.012037 0 0 -0.012061 172.33 234.50)" stroke="#000" stroke-width="36.5" stroke-linejoin="round"/>
<line x1="103.80" y1="259.50" x2="154.30" y2="259.50" stroke="#8e873a" stroke-width="3.8"/>
<text transform="matrix(0.25869 0 0 0.24700 172.21 263.90)" font-size="100" stroke="#000" stroke-width="1.740" stroke-linejoin="round"><tspan class="h">1</tspan>2</text>
<path d="M555 0L735 0L735 1440L588 1440C557 1253 446 1221 207 1204L207 1065L555 1065Z" transform="matrix(0.012631 0 0 -0.012061 172.21 263.90)" stroke="#000" stroke-width="35.6" stroke-linejoin="round"/>
<text transform="matrix(0.26103 0 0 0.26900 2.42 489.20)" font-size="100" font-weight="bold" stroke="#000" stroke-width="1.811" stroke-linejoin="round"><tspan font-size="104.40">B</tspan></text>
<text transform="matrix(0.25761 0 0 0.24900 67.84 511.90)" font-size="100" font-weight="bold" stroke="#000" stroke-width="1.895" stroke-linejoin="round"><tspan font-size="104.40">P</tspan><tspan dx="-2.935">r</tspan>obability of detection by <tspan class="h">1</tspan>80 days</text>
<path d="M471 0L758 0L758 1454L524 1454C492 1245 365 1208 150 1200L150 979L471 979Z" transform="matrix(0.012578 0 0 -0.012158 398.46 511.90)" stroke="#000" stroke-width="38.8" stroke-linejoin="round"/>
<text transform="matrix(0.25998 0 0 0.24700 29.00 814.50)" font-size="100" stroke="#000" stroke-width="1.736" stroke-linejoin="round">0.0</text>
<text transform="matrix(0.26223 0 0 0.24700 29.00 763.12)" font-size="100" stroke="#000" stroke-width="1.728" stroke-linejoin="round">0.2</text>
<text transform="matrix(0.25806 0 0 0.24700 29.01 711.74)" font-size="100" stroke="#000" stroke-width="1.742" stroke-linejoin="round">0.4</text>
<text transform="matrix(0.26095 0 0 0.24700 29.00 660.36)" font-size="100" stroke="#000" stroke-width="1.732" stroke-linejoin="round">0.6</text>
<text transform="matrix(0.26086 0 0 0.24700 29.00 608.98)" font-size="100" stroke="#000" stroke-width="1.733" stroke-linejoin="round">0.8</text>
<text transform="matrix(0.26166 0 0 0.24700 28.78 557.60)" font-size="100" stroke="#000" stroke-width="1.730" stroke-linejoin="round"><tspan class="h">1</tspan>.0</text>
<path d="M555 0L735 0L735 1440L588 1440C557 1253 446 1221 207 1204L207 1065L555 1065Z" transform="matrix(0.012777 0 0 -0.012061 28.78 557.60)" stroke="#000" stroke-width="35.4" stroke-linejoin="round"/>
<text transform="matrix(0.25261 0 0 0.24700 64.67 844.40)" font-size="100" stroke="#000" stroke-width="1.761" stroke-linejoin="round"><tspan class="h">1</tspan>0</text>
<path d="M555 0L735 0L735 1440L588 1440C557 1253 446 1221 207 1204L207 1065L555 1065Z" transform="matrix(0.012335 0 0 -0.012061 64.67 844.40)" stroke="#000" stroke-width="36.1" stroke-linejoin="round"/>
<text transform="matrix(0.22000 0 0 0.22000 92.94 837.90)" font-size="100" stroke="#000" stroke-width="2.000" stroke-linejoin="round">-7</text>
<text transform="matrix(0.25673 0 0 0.24700 170.13 844.40)" font-size="100" stroke="#000" stroke-width="1.747" stroke-linejoin="round"><tspan class="h">1</tspan>0</text>
<path d="M555 0L735 0L735 1440L588 1440C557 1253 446 1221 207 1204L207 1065L555 1065Z" transform="matrix(0.012535 0 0 -0.012061 170.13 844.40)" stroke="#000" stroke-width="35.8" stroke-linejoin="round"/>
<text transform="matrix(0.22000 0 0 0.22000 198.84 837.90)" font-size="100" stroke="#000" stroke-width="2.000" stroke-linejoin="round">-6</text>
<text transform="matrix(0.25570 0 0 0.24700 276.14 844.40)" font-size="100" stroke="#000" stroke-width="1.751" stroke-linejoin="round"><tspan class="h">1</tspan>0</text>
<path d="M555 0L735 0L735 1440L588 1440C557 1253 446 1221 207 1204L207 1065L555 1065Z" transform="matrix(0.012485 0 0 -0.012061 276.14 844.40)" stroke="#000" stroke-width="35.9" stroke-linejoin="round"/>
<text transform="matrix(0.22000 0 0 0.22000 304.74 837.90)" font-size="100" stroke="#000" stroke-width="2.000" stroke-linejoin="round">-5</text>
<text transform="matrix(0.26495 0 0 0.24700 389.04 844.40)" font-size="100" stroke="#000" stroke-width="1.719" stroke-linejoin="round"><tspan class="h">1</tspan>0</text>
<path d="M555 0L735 0L735 1440L588 1440C557 1253 446 1221 207 1204L207 1065L555 1065Z" transform="matrix(0.012937 0 0 -0.012061 389.04 844.40)" stroke="#000" stroke-width="35.2" stroke-linejoin="round"/>
<text transform="matrix(0.22000 0 0 0.22000 418.64 837.90)" font-size="100" stroke="#000" stroke-width="2.000" stroke-linejoin="round">-4</text>
<text transform="matrix(0.25666 0 0 0.24600 172.10 884.40)" font-size="100" stroke="#000" stroke-width="1.751" stroke-linejoin="round"><tspan font-size="104.40">S</tspan><tspan dx="-2.935">e</tspan>lf-antigen density</text>
<text transform="matrix(0.24810 0 0 0.24600 101.74 585.30)" font-size="100" stroke="#000" stroke-width="1.781" stroke-linejoin="round"><tspan font-size="104.40">T</tspan><tspan dx="-2.688">r</tspan>ansit</text>
<text transform="matrix(0.25252 0 0 0.24600 101.94 616.40)" font-size="100" stroke="#000" stroke-width="1.765" stroke-linejoin="round">time (hours)</text>
<line x1="102.80" y1="647.80" x2="153.30" y2="647.80" stroke="#363392" stroke-width="3.8"/>
<text transform="matrix(0.26137 0 0 0.24700 171.10 651.90)" font-size="100" stroke="#000" stroke-width="1.731" stroke-linejoin="round">0.<tspan class="h">1</tspan></text>
<path d="M555 0L735 0L735 1440L588 1440C557 1253 446 1221 207 1204L207 1065L555 1065Z" transform="matrix(0.012762 0 0 -0.012061 192.90 651.90)" stroke="#000" stroke-width="35.5" stroke-linejoin="round"/>
<line x1="102.80" y1="676.60" x2="153.30" y2="676.60" stroke="#8a326a" stroke-width="3.8"/>
<text transform="matrix(0.24651 0 0 0.24700 171.33 680.40)" font-size="100" stroke="#000" stroke-width="1.783" stroke-linejoin="round"><tspan class="h">1</tspan></text>
<path d="M555 0L735 0L735 1440L588 1440C557 1253 446 1221 207 1204L207 1065L555 1065Z" transform="matrix(0.012037 0 0 -0.012061 171.33 680.40)" stroke="#000" stroke-width="36.5" stroke-linejoin="round"/>
<line x1="102.80" y1="705.40" x2="153.30" y2="705.40" stroke="#8e873a" stroke-width="3.8"/>
<text transform="matrix(0.25869 0 0 0.24700 171.21 709.80)" font-size="100" stroke="#000" stroke-width="1.740" stroke-linejoin="round"><tspan class="h">1</tspan>2</text>
<path d="M555 0L735 0L735 1440L588 1440C557 1253 446 1221 207 1204L207 1065L555 1065Z" transform="matrix(0.012631 0 0 -0.012061 171.21 709.80)" stroke="#000" stroke-width="35.6" stroke-linejoin="round"/>
</g>
</svg>
</body></html>
